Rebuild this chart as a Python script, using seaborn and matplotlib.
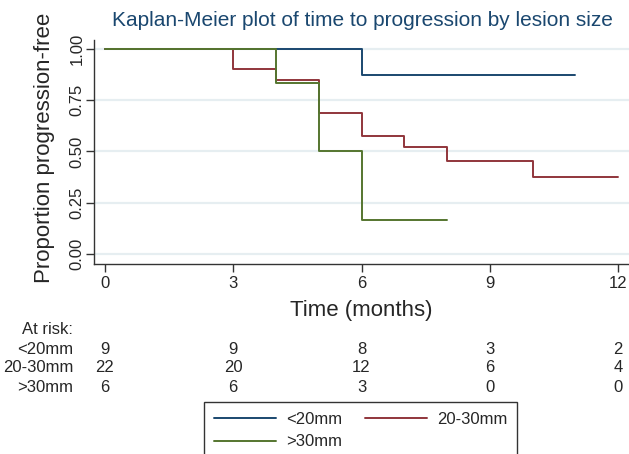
import numpy as np
import pandas as pd
import seaborn as sns
import matplotlib.pyplot as plt
from matplotlib import transforms

# Kaplan-Meier estimates (time in months, survival)
t_small = [0, 6, 11]
s_small = [1.0, 0.875, 0.875]
t_mid = [0, 3, 4, 5, 6, 7, 8, 10, 12]
s_mid = [1.0, 0.90, 0.85, 0.69, 0.575, 0.52, 0.455, 0.378, 0.378]
t_large = [0, 4, 5, 6, 8]
s_large = [1.0, 0.833, 0.50, 0.167, 0.167]

groups = ["<20mm", "20-30mm", ">30mm"]
colors = ["#1a476f", "#90353b", "#55752f"]

risk_times = [0, 3, 6, 9, 12]
risk_small = [9, 9, 8, 3, 2]
risk_mid = [22, 20, 12, 6, 4]
risk_large = [6, 6, 3, 0, 0]

df = pd.concat([
    pd.DataFrame({"time": t_small, "surv": s_small, "group": groups[0]}),
    pd.DataFrame({"time": t_mid, "surv": s_mid, "group": groups[1]}),
    pd.DataFrame({"time": t_large, "surv": s_large, "group": groups[2]}),
], ignore_index=True)

sns.set_theme(style="white")
plt.rcParams["font.family"] = ["Liberation Sans", "DejaVu Sans"]

W, H = 629, 454
fig = plt.figure(figsize=(W / 100, H / 100), dpi=100)
ax = fig.add_axes([94 / W, 1 - 264 / H, 535 / W, 224 / H])

# grid
for yv in [0, 0.25, 0.5, 0.75, 1.0]:
    ax.axhline(yv, color="#e6eef1", lw=1.6, zorder=0)

sns.lineplot(data=df, x="time", y="surv", hue="group", hue_order=groups,
             palette=colors, estimator=None, sort=True, drawstyle="steps-post",
             lw=1.4, ax=ax, legend=False)

ax.set_xlim(-0.257, 12.257)
ax.set_ylim(-0.0488, 1.0439)
ax.set_xticks(risk_times)
ax.set_yticks([0, 0.25, 0.5, 0.75, 1.0])
ax.set_yticklabels(["0.00", "0.25", "0.50", "0.75", "1.00"], rotation=90, va="center")
ax.tick_params(axis="both", direction="out", length=6, width=1, color="#333333",
               labelsize=12, left=True, bottom=True)
ax.tick_params(axis="y", pad=1)
ax.tick_params(axis="x", pad=3)
for s in ["top", "right"]:
    ax.spines[s].set_visible(False)
for s in ["left", "bottom"]:
    ax.spines[s].set_color("#333333")
    ax.spines[s].set_linewidth(1)

ax.set_xlabel("Time (months)", fontsize=16, labelpad=6)
ax.set_ylabel("Proportion progression-free", fontsize=16)
ax.yaxis.set_label_coords(-0.072, 0.52)

fig.text(362 / W, 1 - 20 / H, "Kaplan-Meier plot of time to progression by lesion size",
         ha="center", va="center", fontsize=15, color="#1a476f")

# at-risk table
tr = transforms.blended_transform_factory(ax.transData, fig.transFigure)
fig.text(73 / W, 1 - 330 / H, "At risk:", ha="right", va="center", fontsize=12)
for lab, vals, ypx in zip(groups, [risk_small, risk_mid, risk_large], [349, 368, 387]):
    fig.text(73 / W, 1 - ypx / H, lab, ha="right", va="center", fontsize=12)
    for xt, v in zip(risk_times, vals):
        ax.text(xt, 1 - ypx / H, str(v), transform=tr, ha="center", va="center",
                fontsize=12)

# legend laid out row-wise: <20mm, 20-30mm / >30mm
order = [0, 2, 1]
handles = [plt.Line2D([], [], color=colors[i], lw=1.4) for i in order]
labels = [groups[i] for i in order]
leg = fig.legend(handles, labels, loc="upper left", bbox_to_anchor=(204 / W, 1 - 402 / H),
                 ncol=2, fontsize=12, frameon=True, fancybox=False, handlelength=3.7,
                 handletextpad=0.6, columnspacing=1.4, borderpad=0.6, labelspacing=0.45,
                 borderaxespad=0)
leg.get_frame().set_edgecolor("black")
leg.get_frame().set_linewidth(1)

fig.savefig("out.png", dpi=100)
